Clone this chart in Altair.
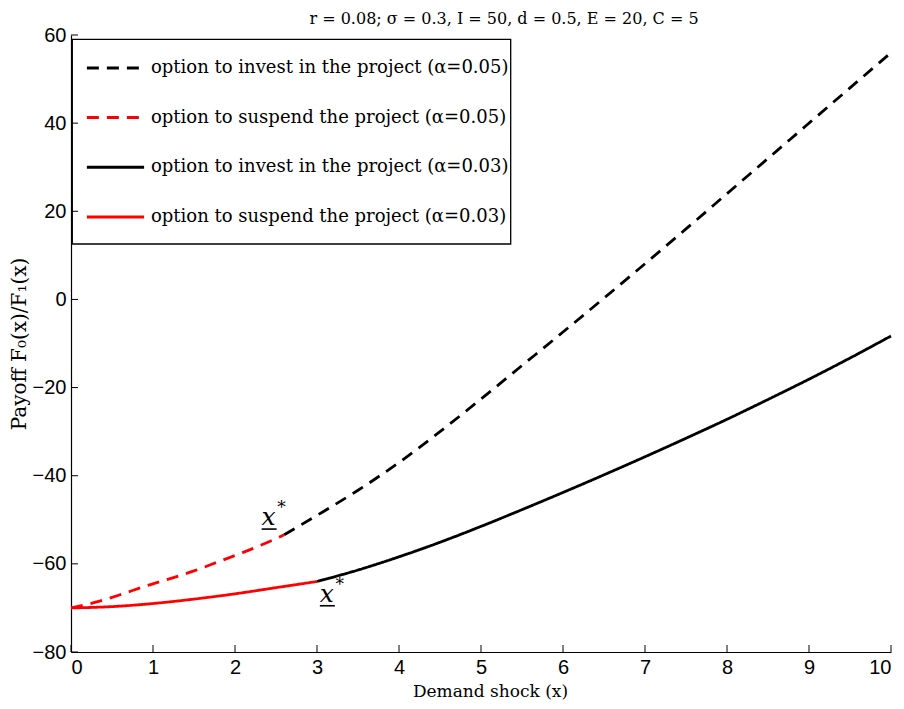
import altair as alt
import pandas as pd

# ---- data ----
labels = [
    "option to invest in the project (α=0.05)",
    "option to suspend the project (α=0.05)",
    "option to invest in the project (α=0.03)",
    "option to suspend the project (α=0.03)",
]
colors = ["#000000", "#ff0000", "#000000", "#ff0000"]
dashes = [[12, 8], [12, 8], [1, 0], [1, 0]]

x_inv05 = [2.6, 3.0, 3.5, 4.0, 4.5, 5.0, 5.5, 6.0, 6.5, 7.0, 7.5, 8.0, 8.5, 9.0, 9.5, 10.0]
y_inv05 = [-53.4, -49.0, -43.3, -37.0, -30.0, -22.6, -15.0, -7.4, 0.3, 8.1, 16.0, 24.0, 32.0, 40.0, 48.0, 56.0]

x_sus05 = [0.0, 0.3, 0.6, 0.9, 1.2, 1.5, 1.8, 2.1, 2.4, 2.6]
y_sus05 = [-70.0, -68.7, -67.0, -65.1, -63.4, -61.6, -59.5, -57.4, -55.1, -53.4]

x_inv03 = [3.0, 3.5, 4.0, 4.5, 5.0, 5.5, 6.0, 6.5, 7.0, 7.5, 8.0, 8.5, 9.0, 9.5, 10.0]
y_inv03 = [-64.0, -61.4, -58.4, -55.1, -51.5, -47.7, -43.8, -39.8, -35.7, -31.5, -27.2, -22.7, -18.1, -13.3, -8.3]

x_sus03 = [0.0, 0.5, 1.0, 1.5, 2.0, 2.5, 3.0]
y_sus03 = [-70.0, -69.7, -69.0, -68.0, -66.8, -65.4, -64.0]

x_ticks = [0, 1, 2, 3, 4, 5, 6, 7, 8, 9, 10]
y_ticks = [-80, -60, -40, -20, 0, 20, 40, 60]

ann_x = [2.41, 3.12]
ann_y = [-51.2, -68.6]

title_text = "r = 0.08; σ = 0.3, I = 50, d = 0.5, E = 20, C = 5"

# ---- build table ----
rows = []
for lab, xs, ys in zip(labels, [x_inv05, x_sus05, x_inv03, x_sus03],
                       [y_inv05, y_sus05, y_inv03, y_sus03]):
    for a, b in zip(xs, ys):
        rows.append({"x": a, "y": b, "series": lab})
df = pd.DataFrame(rows)

W, H = 820, 617
SERIF = "DejaVu Serif, Liberation Serif, serif"
SANSN = "Liberation Sans Narrow, Arial Narrow, Liberation Sans, sans-serif"

xscale = alt.Scale(domain=[0, 10], nice=False, zero=False)
yscale = alt.Scale(domain=[-80, 60], nice=False, zero=False)

xaxis = alt.Axis(values=x_ticks, title="Demand shock (x)", titleFont=SERIF,
                 titleFontSize=17, titleFontWeight="normal", titleColor="black",
                 titlePadding=6, labelPadding=5, titleX=419)
yaxis = alt.Axis(values=y_ticks, title="Payoff F₀(x)/F₁(x)", titleFont=SERIF,
                 titleFontSize=20, titleFontWeight="normal", titleColor="black",
                 titlePadding=3, labelPadding=5)

legend = alt.Legend(title=None, orient="none", legendX=14, legendY=2.4,
                    symbolType="stroke", symbolSize=3274, symbolStrokeWidth=3,
                    labelFont=SERIF, labelFontSize=18, labelColor="black",
                    labelOffset=5, rowPadding=9.7, padding=0, labelLimit=600)

box = alt.Chart(pd.DataFrame({"k": [0]})).mark_rect(
    fill="white", stroke="black", strokeWidth=1.3
).encode(x=alt.value(1.3), x2=alt.value(439.7), y=alt.value(4.3), y2=alt.value(209))

lines = alt.Chart(df).mark_line(strokeWidth=2.8, interpolate="monotone", strokeCap="butt").encode(
    x=alt.X("x:Q", scale=xscale, axis=xaxis),
    y=alt.Y("y:Q", scale=yscale, axis=yaxis),
    color=alt.Color("series:N", scale=alt.Scale(domain=labels, range=colors), legend=legend),
    strokeDash=alt.StrokeDash("series:N", scale=alt.Scale(domain=labels, range=dashes), legend=legend),
)

xt = alt.Chart(pd.DataFrame({"x": x_ticks})).mark_rule(color="black", strokeWidth=1).encode(
    x=alt.X("x:Q", scale=xscale, axis=xaxis), y=alt.value(H), y2=alt.value(H - 7))
yt = alt.Chart(pd.DataFrame({"y": y_ticks})).mark_rule(color="black", strokeWidth=1).encode(
    y=alt.Y("y:Q", scale=yscale, axis=yaxis), x=alt.value(0), x2=alt.value(7))

ann = pd.DataFrame({"x": ann_x, "y": ann_y})
ann_x_txt = alt.Chart(ann).mark_text(text="x", font=SERIF, fontStyle="italic", fontSize=25,
                                     align="center", baseline="alphabetic", color="black").encode(
    x=alt.X("x:Q", scale=xscale, axis=xaxis), y=alt.Y("y:Q", scale=yscale, axis=yaxis))
ann_star = alt.Chart(ann).mark_text(text="*", font=SERIF, fontSize=17, dx=13, dy=-12,
                                    align="center", baseline="alphabetic", color="black").encode(
    x=alt.X("x:Q", scale=xscale, axis=xaxis), y=alt.Y("y:Q", scale=yscale, axis=yaxis))
ann_ul = alt.Chart(ann).mark_rule(color="black", strokeWidth=1.6, xOffset=-7, x2Offset=8, yOffset=4).encode(
    x=alt.X("x:Q", scale=xscale, axis=xaxis), x2="x:Q", y=alt.Y("y:Q", scale=yscale, axis=yaxis))

chart = alt.layer(box, lines, xt, yt, ann_x_txt, ann_star, ann_ul).properties(
    width=W, height=H,
    autosize=alt.AutoSizeParams(type="none"),
    padding={"left": 63, "top": 27, "right": 5, "bottom": 49},
    title=alt.TitleParams(title_text, font=SERIF, fontSize=16, fontWeight="normal",
                          color="black", anchor="middle", dx=23, offset=-2),
    background="white",
).configure_view(stroke=None).configure_axis(
    domainColor="black", domainWidth=1.2, ticks=False, grid=False,
    labelFont=SANSN, labelFontSize=20, labelColor="black",
)

chart.save("out.html", embed_options={"renderer": "svg", "actions": False})
